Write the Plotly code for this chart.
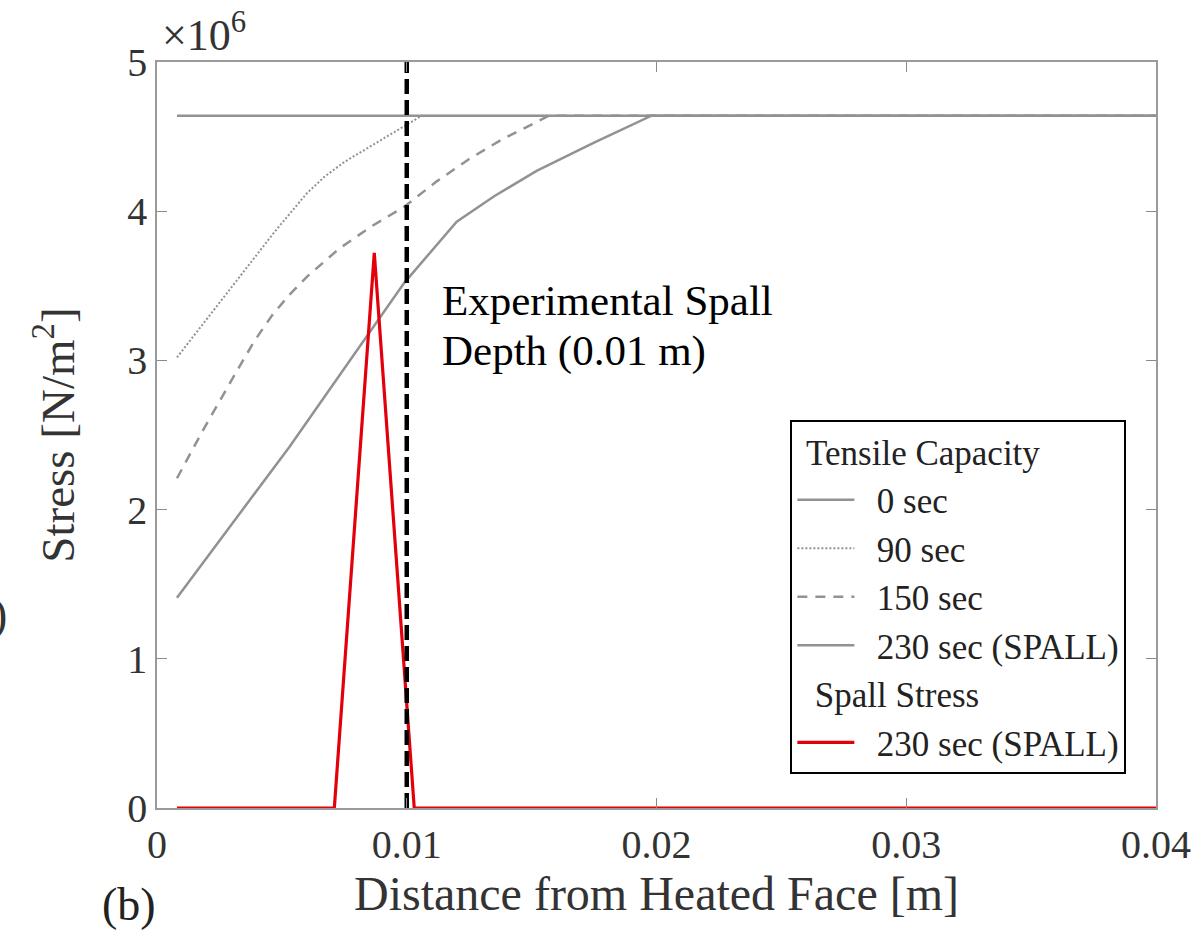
import plotly.graph_objects as go

# ---- data (stress values in N/m^2) ----
x_cap_0 = [0.0008, 0.04]
y_cap_0 = [4.64e6, 4.64e6]

x_cap_90 = [0.0008, 0.002, 0.0033, 0.0047, 0.006, 0.0067, 0.0075, 0.0086, 0.0099, 0.0106, 0.04]
y_cap_90 = [3.02e6, 3.28e6, 3.56e6, 3.86e6, 4.12e6, 4.23e6, 4.33e6, 4.44e6, 4.57e6, 4.64e6, 4.64e6]

x_cap_150 = [0.0008, 0.0018, 0.0032, 0.0039, 0.0046, 0.0053, 0.006, 0.0073, 0.0086, 0.0099, 0.0112, 0.0125, 0.0138, 0.0157, 0.04]
y_cap_150 = [2.21e6, 2.52e6, 2.93e6, 3.13e6, 3.30e6, 3.44e6, 3.56e6, 3.75e6, 3.90e6, 4.03e6, 4.20e6, 4.35e6, 4.48e6, 4.64e6, 4.64e6]

x_cap_230 = [0.0008, 0.0053, 0.0099, 0.012, 0.0135, 0.0152, 0.0175, 0.0198, 0.04]
y_cap_230 = [1.41e6, 2.42e6, 3.52e6, 3.93e6, 4.10e6, 4.27e6, 4.46e6, 4.64e6, 4.64e6]

x_spall = [0.0008, 0.0071, 0.0087, 0.0103, 0.04]
y_spall = [0, 0, 3.72e6, 0, 0]

x_exp = [0.01, 0.01]
y_exp = [0, 5e6]

x_ticks = [0, 0.01, 0.02, 0.03, 0.04]
x_ticktext = ["0", "0.01", "0.02", "0.03", "0.04"]
y_ticks = [0, 1e6, 2e6, 3e6, 4e6, 5e6]
y_ticktext = ["0", "1", "2", "3", "4", "5"]

SERIF = "Liberation Serif"
GREY = "#929292"
RED = "#e3000b"
NB = "\u00a0"

fig = go.Figure()

fig.add_trace(go.Scatter(x=x_cap_0, y=y_cap_0, mode="lines", name=NB * 2 + "0 sec",
                         line=dict(color=GREY, width=2.5),
                         legendgroup="cap", legendgrouptitle=dict(text=NB + "Tensile Capacity")))
fig.add_trace(go.Scatter(x=x_cap_90, y=y_cap_90, mode="lines", name=NB * 2 + "90 sec",
                         line=dict(color=GREY, width=2, dash="2px,2px"),
                         legendgroup="cap"))
fig.add_trace(go.Scatter(x=x_cap_150, y=y_cap_150, mode="lines", name=NB * 2 + "150 sec",
                         line=dict(color=GREY, width=2.5, dash="10px,8px"),
                         legendgroup="cap"))
fig.add_trace(go.Scatter(x=x_cap_230, y=y_cap_230, mode="lines", name=NB * 2 + "230 sec (SPALL)",
                         line=dict(color=GREY, width=2.5),
                         legendgroup="cap"))
fig.add_trace(go.Scatter(x=x_spall, y=y_spall, mode="lines", name=NB * 2 + "230 sec (SPALL)",
                         line=dict(color=RED, width=3.2),
                         legendgroup="spall", legendgrouptitle=dict(text=NB * 2 + "Spall Stress")))
fig.add_trace(go.Scatter(x=x_exp, y=y_exp, mode="lines", showlegend=False,
                         line=dict(color="black", width=4.5, dash="15px,6px")))

axis_common = dict(showline=True, linecolor="#9a9a9a", linewidth=1.5, mirror="ticks",
                   ticks="inside", ticklen=10, tickcolor="#8a8a8a", tickwidth=1.2,
                   showgrid=False, zeroline=False,
                   tickfont=dict(family=SERIF, size=40, color="#333333"))

fig.update_xaxes(range=[0, 0.04], tickvals=x_ticks, ticktext=x_ticktext,
                 title=dict(text="Distance from Heated Face [m]",
                            font=dict(family=SERIF, size=48, color="#333333"), standoff=4),
                 **axis_common)
fig.update_yaxes(range=[0, 5e6], tickvals=y_ticks, ticktext=y_ticktext,
                 title=dict(text="Stress [N/m<sup>2</sup>]",
                            font=dict(family=SERIF, size=47, color="#333333"), standoff=38),
                 **axis_common)

fig.add_annotation(x=0.01135, y=3.40e6, xref="x", yref="y", xanchor="left", yanchor="middle",
                   text="Experimental Spall", showarrow=False, align="left",
                   font=dict(family=SERIF, size=43, color="black"))
fig.add_annotation(x=0.01135, y=3.06e6, xref="x", yref="y", xanchor="left", yanchor="middle",
                   text="Depth (0.01 m)", showarrow=False, align="left",
                   font=dict(family=SERIF, size=43, color="black"))
fig.add_annotation(x=0, y=1, xref="paper", yref="paper", xanchor="left", yanchor="bottom",
                   xshift=3, yshift=0, text="×10<sup>6</sup>", showarrow=False,
                   font=dict(family=SERIF, size=44, color="#333333"))
fig.add_annotation(x=-0.028, y=-0.13, xref="paper", yref="paper", xanchor="center", yanchor="middle",
                   text="(b)", showarrow=False,
                   font=dict(family=SERIF, size=46, color="#222222"))
fig.add_annotation(x=-0.148, y=0.26, xref="paper", yref="paper", xanchor="right", yanchor="middle",
                   text=")", showarrow=False,
                   font=dict(family=SERIF, size=46, color="#333333"))

fig.update_layout(
    width=1203, height=947,
    margin=dict(l=157, r=40, t=62, b=139),
    paper_bgcolor="white", plot_bgcolor="white",
    font=dict(family=SERIF, color="#333333"),
    legend=dict(x=0.634, y=0.52, xanchor="left", yanchor="top",
                bgcolor="white", bordercolor="black", borderwidth=2,
                font=dict(family=SERIF, size=35, color="#222222"),
                grouptitlefont=dict(family=SERIF, size=35, color="#222222"),
                traceorder="grouped", tracegroupgap=0, itemwidth=57),
)

fig.write_html("out.html")
